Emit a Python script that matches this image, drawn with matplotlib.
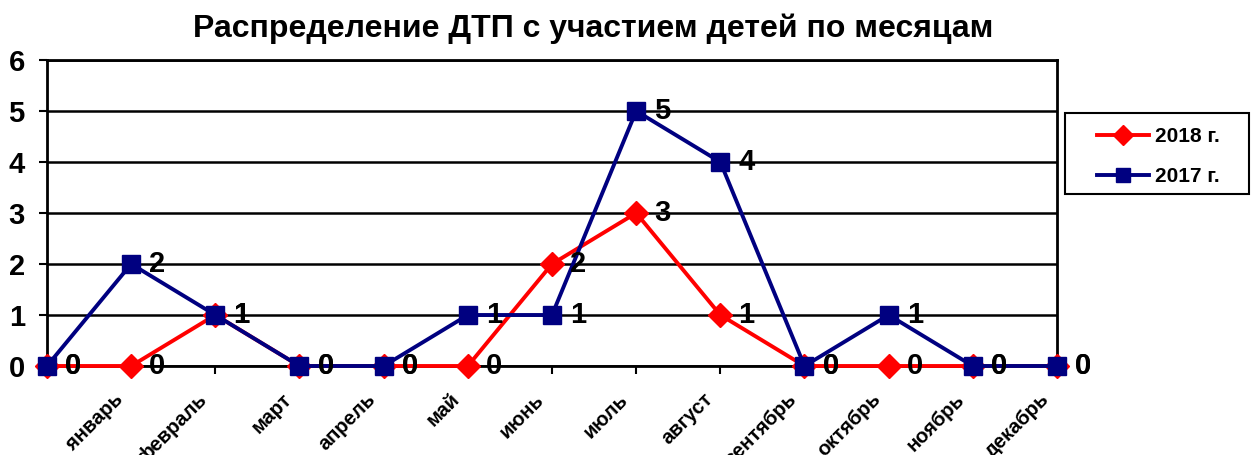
import numpy as np
from matplotlib import pyplot as plt
from matplotlib.patches import Rectangle

months = ['январь', 'февраль', 'март', 'апрель', 'май', 'июнь',
          'июль', 'август', 'сентябрь', 'октябрь', 'ноябрь', 'декабрь']
y2018 = [0, 0, 1, 0, 0, 0, 2, 3, 1, 0, 0, 0, 0]
y2017 = [0, 2, 1, 0, 0, 1, 1, 5, 4, 0, 1, 0, 0]

plt.rcParams['font.family'] = ['Liberation Sans', 'DejaVu Sans']
plt.rcParams['font.weight'] = 'bold'

W, H = 1254, 455
fig = plt.figure(figsize=(W / 100, H / 100), dpi=100)
ax = fig.add_axes([47 / W, 1 - 366 / H, (1057 - 47) / W, (366 - 60) / H])

x = np.arange(len(y2018))
ax.plot(x, y2018, color='#ff0000', lw=2.8, marker='D', ms=12.5, mec='#ff0000',
        mfc='#ff0000', label='2018 г.', zorder=3, clip_on=False)
ax.plot(x, y2017, color='#000080', lw=2.8, marker='s', ms=13, mec='#000080',
        mfc='#000080', label='2017 г.', zorder=4, clip_on=False)

# value labels next to every point
for series in (y2018, y2017):
    for i, v in enumerate(series):
        ax.annotate(str(v), (i, v), xytext=(13, 0), textcoords='offset points',
                    ha='left', va='center', fontsize=21, fontweight='bold',
                    annotation_clip=False, zorder=5)

ax.set_xlim(0, len(y2018) - 1)
ax.set_ylim(0, 6)
ax.set_yticks(range(7))
ax.set_yticklabels([str(i) for i in range(7)], fontsize=21, fontweight='bold')
ax.set_xticks(x)
ax.set_xticklabels([])
ax.tick_params(axis='x', length=6, width=1.5, direction='out')
ax.tick_params(axis='y', length=6, width=1.5, direction='out', pad=10)
ax.grid(axis='y', color='black', lw=1.8)
for s in ax.spines.values():
    s.set_linewidth(2)
ax.set_axisbelow(True)

# month labels sit shifted right of their ticks, like in the original
for i, m in enumerate(months):
    ax.annotate(m, (i + 0.87, 0), xytext=(0, -22), textcoords='offset points',
                rotation=45, rotation_mode='anchor', ha='right', va='center',
                fontsize=14.5, fontweight='bold', annotation_clip=False)

fig.text(0.473, 0.936, 'Распределение ДТП с участием детей по месяцам',
         ha='center', va='center', fontsize=23, fontweight='bold')

leg = fig.legend(loc='upper left', bbox_to_anchor=(1097 / W, 1 - 127 / H),
                 prop={'size': 15, 'weight': 'bold'}, frameon=False,
                 handlelength=2.5, borderpad=0, borderaxespad=0,
                 labelspacing=1.0, markerscale=0.8, handletextpad=0.3)
fig.patches.append(Rectangle((1065 / W, 1 - 194 / H), (1249 - 1065) / W, 81 / H,
                             transform=fig.transFigure, fill=False,
                             edgecolor='black', lw=1.5))

fig.savefig('out.png', dpi=100)
